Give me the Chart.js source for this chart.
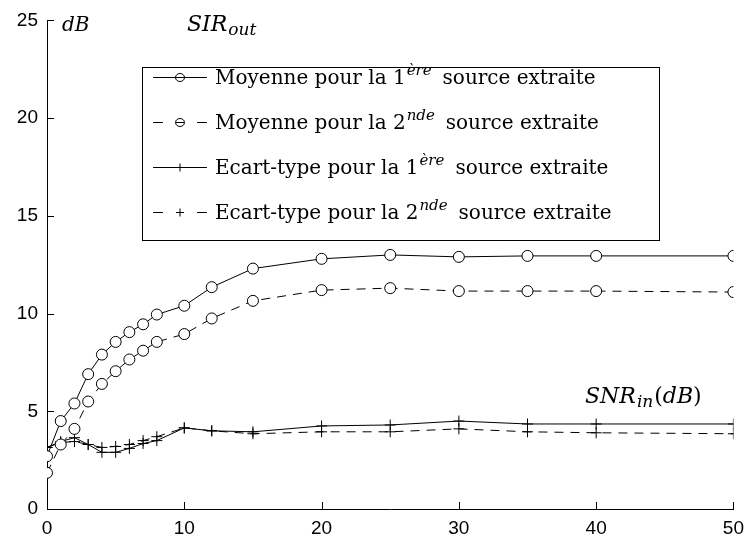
<!DOCTYPE html>
<html>
<head>
<meta charset="utf-8">
<script src="https://cdn.jsdelivr.net/npm/chart.js@4.4.1/dist/chart.umd.min.js"></script>
<style>
html,body{margin:0;padding:0;background:#fff;}
#c{display:block;}
</style>
</head>
<body>
<canvas id="c" width="752" height="544" style="width:752px;height:544px"></canvas>
<script>
// ---- Data ----
const snrIn = [0,1,2,3,4,5,6,7,8,10,12,15,20,25,30,35,40,50];
const meanFirst  = [2.7,4.5,5.4,6.9,7.9,8.55,9.05,9.45,9.95,10.4,11.35,12.3,12.8,13.0,12.9,12.95,12.95,12.95];
const meanSecond = [1.85,3.3,4.1,5.5,6.4,7.05,7.65,8.1,8.55,8.95,9.75,10.65,11.2,11.3,11.15,11.15,11.15,11.1];
const stdFirst   = [3.15,3.45,3.65,3.3,2.9,2.9,3.1,3.35,3.5,4.15,4.0,3.95,4.25,4.3,4.5,4.35,4.35,4.35];
const stdSecond  = [3.15,3.4,3.45,3.3,3.15,3.2,3.3,3.5,3.7,4.15,4.0,3.85,3.95,3.95,4.1,3.95,3.9,3.85];
const xTicks = [0,10,20,30,40,50];
const yTicks = [0,5,10,15,20,25];
const legendEntries = [
  {pre:'Moyenne pour la 1', sup:'ère', post:'source extraite'},
  {pre:'Moyenne pour la 2', sup:'nde', post:'source extraite'},
  {pre:'Ecart-type pour la 1', sup:'ère', post:'source extraite'},
  {pre:'Ecart-type pour la 2', sup:'nde', post:'source extraite'}
];

const toXY = arr => snrIn.map((x,i)=>({x:x,y:arr[i]}));
const DASH = [9,7];

const datasets = [
  {label:'m1', data:toXY(meanFirst), borderColor:'#000', borderWidth:1, pointStyle:'circle', pointRadius:5.5, pointBorderColor:'#000', pointBackgroundColor:'#fff', pointBorderWidth:1, tension:0},
  {label:'m2', data:toXY(meanSecond), borderColor:'#000', borderWidth:1, borderDash:DASH, pointStyle:'circle', pointRadius:5.5, pointBorderColor:'#000', pointBackgroundColor:'#fff', pointBorderWidth:1, tension:0},
  {label:'s1', data:toXY(stdFirst), borderColor:'#000', borderWidth:1, pointStyle:'cross', pointRadius:5.5, pointBorderColor:'#000', pointBorderWidth:1, tension:0},
  {label:'s2', data:toXY(stdSecond), borderColor:'#000', borderWidth:1, borderDash:DASH, pointStyle:'cross', pointRadius:5.5, pointBorderColor:'#000', pointBorderWidth:1, tension:0}
];

const SERIF = '"DejaVu Serif", "Liberation Serif", serif';

function drawRich(ctx, x, y, parts){
  let cx = x;
  parts.forEach(p=>{
    ctx.font = p.font;
    cx += (p.gap||0);
    ctx.fillText(p.t, cx, y + (p.dy||0));
    cx += ctx.measureText(p.t).width;
  });
  return cx;
}

const decor = {
  id:'decor',
  afterDraw(chart){
    const ctx = chart.ctx;
    const xs = chart.scales.x, ys = chart.scales.y;
    const a = chart.chartArea;
    ctx.save();
    ctx.strokeStyle = '#000';
    ctx.lineWidth = 1;
    ctx.setLineDash([]);
    // inward ticks
    ctx.beginPath();
    xTicks.forEach(v=>{
      const px = Math.round(xs.getPixelForValue(v))+0.5;
      ctx.moveTo(px, a.bottom); ctx.lineTo(px, a.bottom-7);
    });
    yTicks.forEach(v=>{
      const py = Math.round(ys.getPixelForValue(v))+0.5;
      ctx.moveTo(a.left, py); ctx.lineTo(a.left+7, py);
    });
    ctx.stroke();

    // legend box
    const bx = 142.5, by = 67.5, bw = 517, bh = 173;
    ctx.fillStyle = '#fff';
    ctx.fillRect(bx, by, bw, bh);
    ctx.strokeRect(bx, by, bw, bh);
    const rowY = [77, 122, 167, 212];
    ctx.textBaseline = 'alphabetic';
    legendEntries.forEach((e,i)=>{
      const y = rowY[i]+0.5;
      const ds = datasets[i];
      ctx.beginPath();
      if (ds.borderDash){
        ctx.moveTo(153, y); ctx.lineTo(163, y);
        ctx.moveTo(197, y); ctx.lineTo(207, y);
      } else {
        ctx.moveTo(153, y); ctx.lineTo(207, y);
      }
      ctx.stroke();
      ctx.beginPath();
      if (ds.pointStyle === 'circle'){
        ctx.ellipse(180, y, 4.5, 4, 0, 0, Math.PI*2);
        if (ds.borderDash){ ctx.moveTo(176, y); ctx.lineTo(184, y); }
        ctx.stroke();
      } else {
        ctx.moveTo(176, y); ctx.lineTo(184, y);
        ctx.moveTo(180, y-4); ctx.lineTo(180, y+4);
        ctx.stroke();
      }
      ctx.fillStyle = '#000';
      drawRich(ctx, 215, rowY[i]+7, [
        {t:e.pre, font:'20px '+SERIF},
        {t:e.sup, font:'italic 15px '+SERIF, dy:-9, gap:1},
        {t:e.post, font:'20px '+SERIF, gap:11}
      ]);
    });

    // annotations
    drawRich(ctx, 62, 31, [{t:'dB', font:'italic 20px '+SERIF}]);
    drawRich(ctx, 187, 31, [
      {t:'SIR', font:'italic 22px '+SERIF},
      {t:'out', font:'italic 17px '+SERIF, dy:4, gap:1}
    ]);
    drawRich(ctx, 585, 403, [
      {t:'SNR', font:'italic 22px '+SERIF},
      {t:'in', font:'italic 17px '+SERIF, dy:4, gap:1},
      {t:'(', font:'22px '+SERIF, gap:1},
      {t:'dB', font:'italic 22px '+SERIF},
      {t:')', font:'22px '+SERIF}
    ]);
    ctx.restore();
  }
};

new Chart(document.getElementById('c'), {
  type:'line',
  data:{datasets:datasets},
  options:{
    responsive:false,
    animation:false,
    devicePixelRatio:1,
    layout:{padding:{top:16, right:16, left:0, bottom:0}},
    plugins:{legend:{display:false}, tooltip:{enabled:false}},
    scales:{
      x:{
        type:'linear', min:0, max:50,
        afterFit(s){ s.height = 35; },
        afterBuildTicks(s){ s.ticks = xTicks.map(v=>({value:v})); },
        grid:{display:true, drawOnChartArea:false, drawTicks:false},
        border:{display:true, color:'#000', width:1},
        ticks:{color:'#000', padding:8, maxRotation:0, font:{family:'"Liberation Sans", Arial, sans-serif', size:19}}
      },
      y:{
        type:'linear', min:0, max:25,
        afterFit(s){ s.width = 47; },
        afterBuildTicks(s){ s.ticks = yTicks.map(v=>({value:v})); },
        grid:{display:true, drawOnChartArea:false, drawTicks:false},
        border:{display:true, color:'#000', width:1},
        ticks:{color:'#000', padding:9, font:{family:'"Liberation Sans", Arial, sans-serif', size:19}}
      }
    }
  },
  plugins:[decor]
});
</script>
</body>
</html>
